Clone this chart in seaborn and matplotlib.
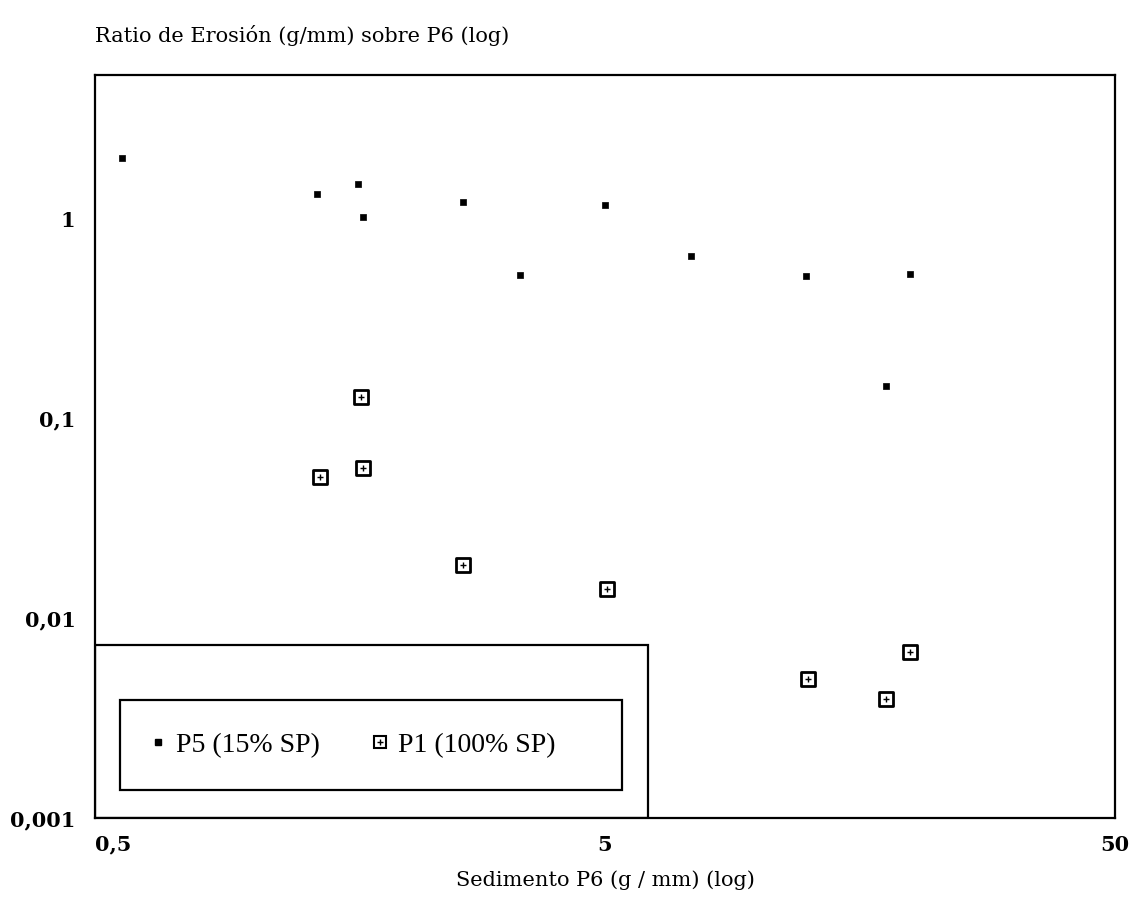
import numpy as np
import pandas as pd
import matplotlib.pyplot as plt
import seaborn as sns
from matplotlib.patches import Rectangle
from matplotlib.legend_handler import HandlerTuple
from matplotlib.lines import Line2D
from matplotlib.transforms import ScaledTranslation

# P5 (15% SP)
p5_x = [0.565, 1.36, 1.64, 1.68, 2.63, 3.41, 5.0, 7.37, 12.4, 17.8, 19.8]
p5_y = [2.02, 1.33, 1.50, 1.02, 1.22, 0.525, 1.17, 0.653, 0.519, 0.146, 0.53]
# P1 (100% SP)
p1_x = [1.38, 1.66, 1.68, 2.63, 5.04, 12.5, 17.8, 19.8]
p1_y = [0.0513, 0.129, 0.0569, 0.0184, 0.0141, 0.00495, 0.00394, 0.00676]

xticks = [0.5, 5, 50]
xtick_labels = ["0,5", "5", "50"]
yticks = [0.001, 0.01, 0.1, 1]
ytick_labels = ["0,001", "0,01", "0,1", "1"]

df5 = pd.DataFrame({"x": p5_x, "y": p5_y})
df1 = pd.DataFrame({"x": p1_x, "y": p1_y})

sns.set_style("white")
plt.rcParams["font.family"] = ["DejaVu Serif"]
plt.rcParams["text.color"] = "black"
plt.rcParams["xtick.color"] = "black"
plt.rcParams["ytick.color"] = "black"

fig = plt.figure(figsize=(11.37, 9.22), dpi=100)
ax = fig.add_axes([95 / 1137, 1 - 818 / 922, (1115 - 95) / 1137, (818 - 75) / 922])

sns.scatterplot(data=df5, x="x", y="y", marker="s", s=22, color="black",
                edgecolor="black", linewidth=0.5, ax=ax, zorder=3)
sns.scatterplot(data=df1, x="x", y="y", marker="s", s=115, facecolor="white",
                edgecolor="black", linewidth=2, ax=ax, zorder=3)
sns.scatterplot(data=df1, x="x", y="y", marker="+", s=25, color="black",
                linewidth=1, ax=ax, zorder=4)

ax.set_xscale("log")
ax.set_yscale("log")
ax.set_xlim(0.5, 50)
ax.set_ylim(0.001, 5.26)

ax.set_xticks(xticks)
ax.set_xticklabels(xtick_labels, fontsize=15, fontweight="bold")
ax.set_yticks(yticks)
ax.set_yticklabels(ytick_labels, fontsize=15, fontweight="bold")
ax.minorticks_off()
ax.tick_params(axis="x", direction="in", length=14, width=1.2, pad=12)
ax.tick_params(axis="y", direction="in", length=0, pad=14)
ax.set_xlabel("")
ax.set_ylabel("")
for sp in ax.spines.values():
    sp.set_linewidth(1.6)
    sp.set_color("black")

# nudge the end labels like the original
lbls = ax.get_xticklabels()
lbls[0].set_transform(lbls[0].get_transform() + ScaledTranslation(0.18, 0, fig.dpi_scale_trans))

fig.text(95 / 1137, 1 - 35 / 922, "Ratio de Erosión (g/mm) sobre P6 (log)",
         fontsize=15, va="center", ha="left")
fig.text(605 / 1137, 1 - 880 / 922, "Sedimento P6 (g / mm) (log)",
         fontsize=15, va="center", ha="center")

# outer legend box
ax.add_patch(Rectangle((0, 0), (648 - 95) / 1020, (818 - 645) / 743,
                       transform=ax.transAxes, fill=False, edgecolor="black",
                       linewidth=1.6, zorder=5))
# inner legend box
ax.add_patch(Rectangle(((120 - 95) / 1020, (818 - 790) / 743),
                       (622 - 120) / 1020, (790 - 700) / 743,
                       transform=ax.transAxes, fill=False, edgecolor="black",
                       linewidth=1.6, zorder=5))

h5 = Line2D([], [], marker="s", color="black", linestyle="none", markersize=4)
h1a = Line2D([], [], marker="s", markerfacecolor="white", markeredgecolor="black",
             markeredgewidth=1.5, linestyle="none", markersize=8)
h1b = Line2D([], [], marker="+", color="black", linestyle="none", markersize=4)
leg = ax.legend([h5, (h1a, h1b)], ["P5 (15% SP)", "P1 (100% SP)"],
                handler_map={tuple: HandlerTuple(ndivide=1, pad=0)},
                ncol=2, loc="center left",
                bbox_to_anchor=((140 - 95) / 1020, (818 - 790) / 743,
                                (622 - 140) / 1020, (790 - 700) / 743),
                borderaxespad=0, frameon=False,
                handlelength=0.5, handletextpad=0.4, columnspacing=1.9,
                prop={"family": "Liberation Serif", "size": 20})

fig.savefig("out.png", dpi=100, facecolor="white")
